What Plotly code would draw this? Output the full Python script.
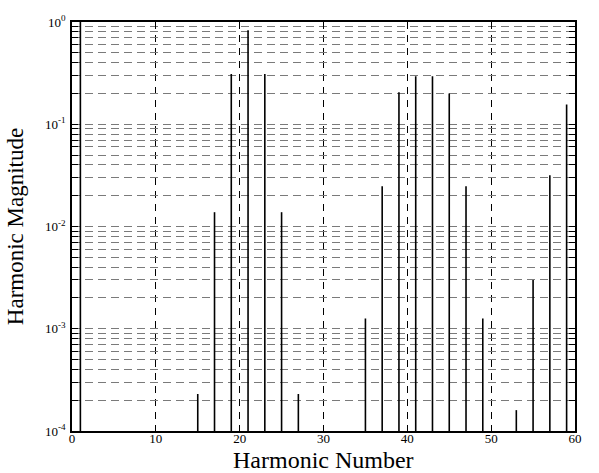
import plotly.graph_objects as go

# Harmonic spectrum: harmonic order and normalised magnitude
harmonics = [1, 15, 17, 19, 21, 23, 25, 27, 35, 37, 39, 41, 43, 45, 47, 49, 53, 55, 57, 59]
magnitudes = [1.0, 2.3e-4, 0.0138, 0.31, 0.83, 0.31, 0.0138, 2.3e-4, 1.26e-3, 0.0247,
              0.205, 0.294, 0.294, 0.20, 0.0247, 1.26e-3, 1.6e-4, 3.0e-3, 0.0317, 0.156]

x_ticks = [0, 10, 20, 30, 40, 50, 60]
decades = [-4, -3, -2, -1, 0]
y_floor = 1e-4

# stems from the axis floor to each magnitude
xs, ys = [], []
for h, m in zip(harmonics, magnitudes):
    xs += [h, h, None]
    ys += [y_floor, m, None]

# log grid: every 1..9 x 10^k, labels only on decades
y_vals, y_text = [], []
for k in decades:
    for d in range(1, 10):
        if k == 0 and d > 1:
            break
        y_vals.append(d * 10.0 ** k)
        y_text.append(f"10<sup>{k}</sup>" if d == 1 else "")

fig = go.Figure()
fig.add_trace(go.Scatter(x=xs, y=ys, mode="lines",
                         line=dict(color="black", width=1.6),
                         hoverinfo="skip", showlegend=False))

serif = "Liberation Serif, Times New Roman, serif"
fig.update_layout(
    width=599, height=473,
    margin=dict(l=72, r=24, t=22, b=42),
    paper_bgcolor="white", plot_bgcolor="white",
    font=dict(family=serif, color="black", size=13),
    showlegend=False,
)
fig.update_xaxes(
    range=[0, 60], tickvals=x_ticks, ticktext=[str(v) for v in x_ticks],
    showgrid=True, gridcolor="black", gridwidth=1, griddash="7px,6px",
    zeroline=False, showline=True, linecolor="black", linewidth=2, mirror="ticks",
    ticks="inside", ticklen=5, tickcolor="black", ticklabelstandoff=-6,
    tickfont=dict(size=13, family=serif), automargin=False,
)
fig.update_yaxes(
    type="log", range=[-4, 0], tickvals=y_vals, ticktext=y_text,
    showgrid=True, gridcolor="#7a7a7a", gridwidth=1, griddash="8px,5px",
    zeroline=False, showline=True, linecolor="black", linewidth=1.5, mirror="ticks",
    ticks="inside", ticklen=6, tickcolor="black", ticklabelstandoff=2,
    tickfont=dict(size=13, family=serif), automargin=False,
    title=dict(text="Harmonic Magnitude", font=dict(size=23, family=serif)),
)
# x-axis title placed just under the tick labels
fig.add_annotation(
    text="Harmonic Number", xref="paper", yref="paper", x=0.5, y=0,
    xanchor="center", yanchor="top", yshift=-14, showarrow=False,
    font=dict(size=24, family=serif, color="black"),
)

fig.write_html("out.html")
